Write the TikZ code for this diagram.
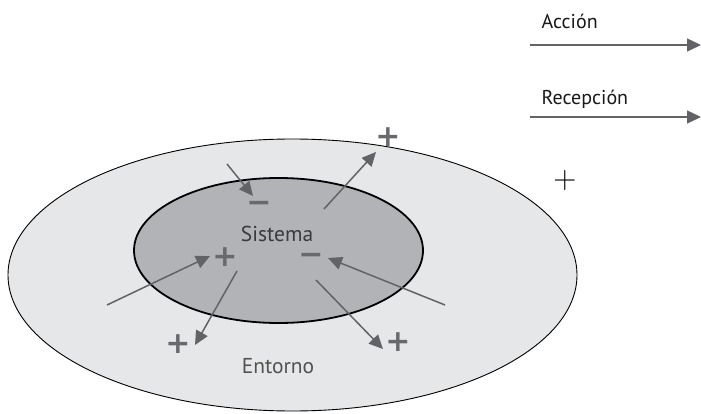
\documentclass[tikz,border=0pt]{standalone}
\usepackage{fontspec}
\setmainfont{PT Sans}
\newfontfamily\signfont{DejaVu Sans}
\usetikzlibrary{arrows.meta}

\definecolor{outerfill}{HTML}{E6E7E8}
\definecolor{innerfill}{HTML}{B1B3B6}
\definecolor{arrowgray}{HTML}{626366}
\definecolor{signgray}{HTML}{68696C}
\definecolor{labelgray}{HTML}{3A3A3C}

\tikzset{
  flow/.style={draw=arrowgray, line width=1.5pt,
    -{Triangle[length=14pt,width=13pt]}},
  % signs are set on their baseline so that + and − share the same axis
  sign/.style={inner sep=0pt, anchor=base, text=signgray, yshift=-10.8pt,
    font=\signfont\bfseries\fontsize{30}{30}\selectfont},
  lbl/.style={inner sep=0pt, font=\fontsize{21.5}{21.5}\selectfont},
  legendlbl/.style={inner sep=0pt, anchor=west, text=black!90,
    font=\fontsize{20}{20}\selectfont},
}

\begin{document}
\begin{tikzpicture}[x=1pt,y=-1pt]
\useasboundingbox (0,0) rectangle (701,414);

% environment and system
\draw[fill=outerfill, line width=0.9pt] (292.5,275) ellipse [x radius=284.5, y radius=136];
\draw[fill=innerfill, line width=1.8pt] (278.5,250.5) ellipse [x radius=144.5, y radius=72.5];

\node[lbl, text=labelgray] (sistema) at (277,234) {Sistema};
\node[lbl, text=black!68] (entorno) at (278,366) {Entorno};

% signs
\node[sign] (plusA)  at (388,136) {+};
\node[sign] (minusA) at (259,202) {−};
\node[sign] (plusB)  at (225,256) {+};
\node[sign] (plusC)  at (178,343) {+};
\node[sign] (minusB) at (311,254) {−};
\node[sign] (plusD)  at (398,341) {+};

% arrow end points
\coordinate (a1s) at (227,164);  \coordinate (a1e) at (253,196);
\coordinate (a2s) at (324,209);  \coordinate (a2e) at (376,152);
\coordinate (a3s) at (107,305);  \coordinate (a3e) at (210,256);
\coordinate (a4s) at (237,271);  \coordinate (a4e) at (195,345);
\coordinate (a5s) at (445,305);  \coordinate (a5e) at (328,258);
\coordinate (a6s) at (316,280);  \coordinate (a6e) at (383,349);

\draw[flow] (a1s) -- (a1e);
\draw[flow] (a2s) -- (a2e);
\draw[flow] (a3s) -- (a3e);
\draw[flow] (a4s) -- (a4e);
\draw[flow] (a5s) -- (a5e);
\draw[flow] (a6s) -- (a6e);

% legend
\node[legendlbl] (accion) at (541.5,21) {Acción};
\coordinate (l1s) at (530,45);  \coordinate (l1e) at (701,45);
\draw[flow] (l1s) -- (l1e);
\node[legendlbl] (recepcion) at (541.5,99) {Recepción};
\coordinate (l2s) at (530,117); \coordinate (l2e) at (701,117);
\draw[flow] (l2s) -- (l2e);
\node[inner sep=0pt, anchor=base, yshift=-8.5pt,
  font=\fontfamily{lmr}\fontsize{32}{32}\selectfont] (legplus) at (565,180) {+};
\end{tikzpicture}
\end{document}
